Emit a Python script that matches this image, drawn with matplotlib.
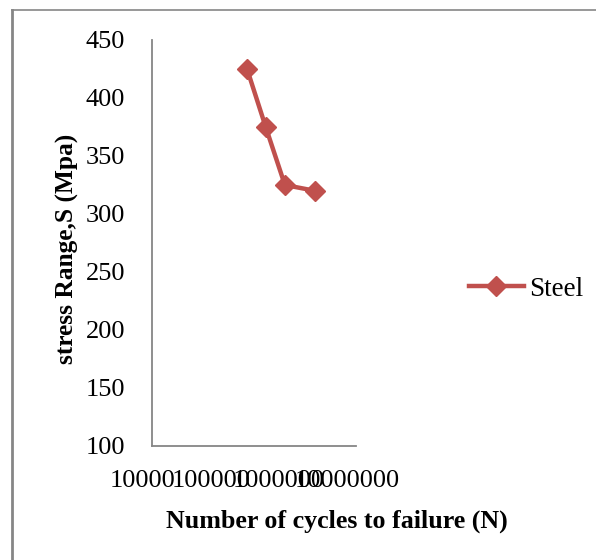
import matplotlib.pyplot as plt
from matplotlib.lines import Line2D
from matplotlib.ticker import FixedLocator, FixedFormatter, NullLocator
from matplotlib.transforms import ScaledTranslation

# S-N data
cycles = [250000, 470000, 900000, 2500000]
stress = [425, 375, 325, 320]
series_name = "Steel"

x_ticks = [1e4, 1e5, 1e6, 1e7]
x_labels = ["10000", "100000", "1000000", "10000000"]
y_ticks = [100, 150, 200, 250, 300, 350, 400, 450]

red = "#C0504D"
grey = "#868686"

plt.rcParams['font.family'] = ['Liberation Serif', 'DejaVu Serif']

fig = plt.figure(figsize=(5.96, 5.6), dpi=100)
ax = fig.add_axes([152 / 596, 1 - 446 / 560, 204 / 596, 406 / 560])

line, = ax.plot(cycles, stress, color=red, lw=3.2, marker='D', markersize=10.5,
                label=series_name)

ax.set_xscale('log')
ax.set_xlim(1e4, 1e7)
ax.set_ylim(100, 450)
ax.xaxis.set_major_locator(FixedLocator(x_ticks))
ax.xaxis.set_major_formatter(FixedFormatter(x_labels))
ax.xaxis.set_minor_locator(NullLocator())
ax.set_yticks(y_ticks)

ax.tick_params(axis='both', length=0, labelsize=19)
ax.tick_params(axis='x', pad=17)
ax.tick_params(axis='y', pad=19.5)
for s in ['top', 'right']:
    ax.spines[s].set_visible(False)
for s in ['left', 'bottom']:
    ax.spines[s].set_color(grey)
    ax.spines[s].set_linewidth(1.3)

fig.text(337 / 596, 1 - 521 / 560, "Number of cycles to failure (N)",
         ha='center', va='center', fontsize=18.7, fontweight='bold')
fig.text(67 / 596, 1 - 249 / 560, "stress Range,S (Mpa)", rotation=90,
         ha='center', va='center', fontsize=18.3, fontweight='bold')

fig.legend(handles=[line], loc='center left', bbox_to_anchor=(445 / 596, 1 - 289 / 560),
           frameon=False, fontsize=19.5, handlelength=2.0, handletextpad=0.2)

# chart frame (only top and left edges show)
fig.add_artist(Line2D([12 / 596, 12 / 596], [0, 1 - 10 / 560], transform=fig.transFigure,
                      color=grey, lw=2))
fig.add_artist(Line2D([12 / 596, 1], [1 - 10 / 560, 1 - 10 / 560], transform=fig.transFigure,
                      color=grey, lw=1.2))

# the x labels in the original sit a little left of their ticks
fig.canvas.draw()
shift = ScaledTranslation(-9 / 100, 0, fig.dpi_scale_trans)
for lab in ax.get_xticklabels():
    lab.set_transform(lab.get_transform() + shift)

fig.savefig("out.png", dpi=100)
